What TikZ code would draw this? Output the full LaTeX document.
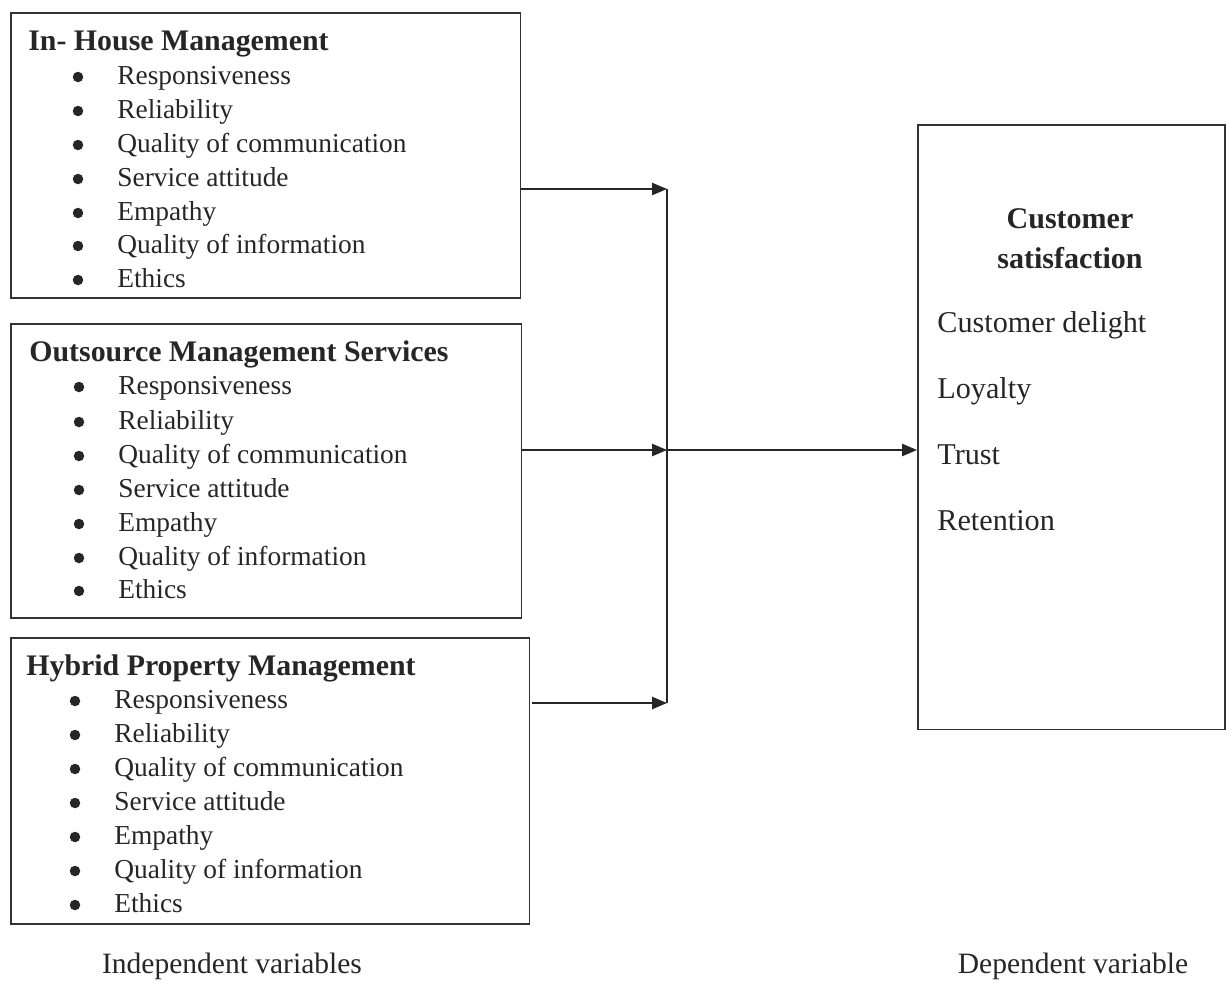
\documentclass[tikz,border=0pt]{standalone}
\usepackage{fontspec}
\setmainfont{Liberation Serif}
\usetikzlibrary{arrows.meta}

\begin{document}
\begin{tikzpicture}[x=0.02cm, y=-0.02cm,
        frame/.style={draw=black!80, line width=0.9pt, inner sep=0pt, anchor=north west},
        head/.style={anchor=base west, inner sep=0pt, text=black!85, font=\fontsize{17pt}{20pt}\selectfont\bfseries},
        item/.style={anchor=base west, inner sep=0pt, text=black!85, font=\fontsize{15.6pt}{18pt}\selectfont,
            append after command={\pgfextra{\fill[black!85] ([shift={(-39,-7)}]\tikzlastnode.base west) circle[radius=0.105cm];}}},
        factor/.style={anchor=base west, inner sep=0pt, text=black!85, font=\fontsize{17.2pt}{20pt}\selectfont},
        caption/.style={anchor=base, inner sep=0pt, text=black!85, font=\fontsize{16.8pt}{20pt}\selectfont},
        link/.style={draw=black!85, line width=0.8pt},
        arr/.style={link, -{Triangle[length=8.5pt,width=7pt]}}]

        \useasboundingbox (0,0) rectangle (1229,981);

        % boxes
        \node[frame, minimum width=10.2cm, minimum height=5.7cm] (inhouse) at (10,12) {};
        \node[frame, minimum width=10.22cm, minimum height=5.88cm] (outsource) at (10,323) {};
        \node[frame, minimum width=10.38cm, minimum height=5.72cm] (hybrid) at (10,637) {};
        \node[frame, minimum width=6.14cm, minimum height=12.1cm] (satisfaction) at (917,124) {};

        % in-house
        \node[head] (ih0) at (28,50) {In- House Management};
        \node[item] (ih1) at (117,84) {Responsiveness};
        \node[item] (ih2) at (117,118) {Reliability};
        \node[item] (ih3) at (117,152) {Quality of communication};
        \node[item] (ih4) at (117,186) {Service attitude};
        \node[item] (ih5) at (117,220) {Empathy};
        \node[item] (ih6) at (117,253) {Quality of information};
        \node[item] (ih7) at (117,287) {Ethics};

        % outsource
        \node[head] (om0) at (29,361) {Outsource Management Services};
        \node[item] (om1) at (118,394) {Responsiveness};
        \node[item] (om2) at (118,429) {Reliability};
        \node[item] (om3) at (118,463) {Quality of communication};
        \node[item] (om4) at (118,497) {Service attitude};
        \node[item] (om5) at (118,531) {Empathy};
        \node[item] (om6) at (118,565) {Quality of information};
        \node[item] (om7) at (118,598) {Ethics};

        % hybrid
        \node[head] (hp0) at (26,675) {Hybrid Property Management};
        \node[item] (hp1) at (114,708) {Responsiveness};
        \node[item] (hp2) at (114,742) {Reliability};
        \node[item] (hp3) at (114,776) {Quality of communication};
        \node[item] (hp4) at (114,810) {Service attitude};
        \node[item] (hp5) at (114,844) {Empathy};
        \node[item] (hp6) at (114,878) {Quality of information};
        \node[item] (hp7) at (114,912) {Ethics};

        % customer satisfaction
        \node[head, anchor=base, font=\fontsize{17.1pt}{20pt}\selectfont\bfseries] (cs1) at (1070,228) {Customer};
        \node[head, anchor=base, font=\fontsize{17.1pt}{20pt}\selectfont\bfseries] (cs2) at (1070,268) {satisfaction};
        \node[factor] (cs3) at (937,332) {Customer delight};
        \node[factor] (cs4) at (937,398) {Loyalty};
        \node[factor] (cs5) at (937,464) {Trust};
        \node[factor] (cs6) at (937,530) {Retention};

        % captions
        \node[caption] (indep) at (232,973) {Independent variables};
        \node[caption] (dep) at (1073,973) {Dependent variable};

        % connectors
        \coordinate (j1) at (667,189);
        \coordinate (j2) at (667,450);
        \coordinate (j3) at (667,703);
        \draw[arr] (inhouse.east |- j1) -- (j1);
        \draw[arr] (outsource.east |- j2) -- (j2);
        \draw[arr] ([xshift=0.04cm]hybrid.east |- j3) -- (j3);
        \draw[link] (j1) -- (j3);
        \draw[arr] (j2) -- (satisfaction.west |- j2);
    \end{tikzpicture}
\end{document}
